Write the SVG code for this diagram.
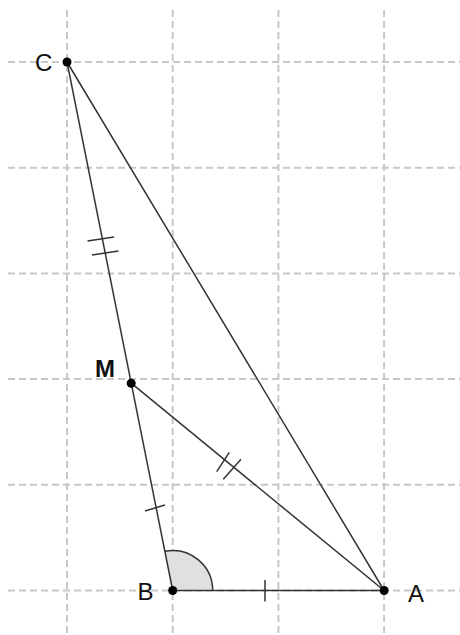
<svg xmlns="http://www.w3.org/2000/svg" width="460" height="635" viewBox="0 0 460 635">
<style>
.grid{stroke:#c8c8c8;stroke-width:2;stroke-dasharray:7,4;fill:none}
.seg{stroke:#333;stroke-width:1.5;fill:none}
.tick{stroke:#333;stroke-width:1.5}
.lbl{font-family:"Liberation Sans",Arial,sans-serif;font-size:24px;fill:#111}
.pt{fill:#000}
</style>
<rect width="460" height="635" fill="#fff"/>
<g id="grid">
<line class="grid" x1="67" y1="10" x2="67" y2="635"/>
<line class="grid" x1="172.7" y1="10" x2="172.7" y2="635"/>
<line class="grid" x1="278.4" y1="10" x2="278.4" y2="635"/>
<line class="grid" x1="384.1" y1="10" x2="384.1" y2="635"/>
<line class="grid" x1="8" y1="62" x2="460" y2="62"/>
<line class="grid" x1="8" y1="167.7" x2="460" y2="167.7"/>
<line class="grid" x1="8" y1="273.4" x2="460" y2="273.4"/>
<line class="grid" x1="8" y1="379.1" x2="460" y2="379.1"/>
<line class="grid" x1="8" y1="484.8" x2="460" y2="484.8"/>
<line class="grid" x1="8" y1="590.5" x2="460" y2="590.5"/>
</g>
<g id="angleB">
<path d="M172.7,590.5 L212.7,590.5 A40,40 0 0 0 164.9,551.3 Z" fill="#e0e0e0" stroke="none"/>
<path d="M212.7,590.5 A40,40 0 0 0 164.9,551.3" class="seg"/>
</g>
<g id="connectors">
<line class="seg" x1="67" y1="62" x2="172.7" y2="590.5"/>
<line class="seg" x1="67" y1="62" x2="384.1" y2="590.5"/>
<line class="seg" x1="172.7" y1="590.5" x2="384.1" y2="590.5"/>
<line class="seg" x1="131.2" y1="383.2" x2="384.1" y2="590.5"/>
<line class="tick" x1="87.5" y1="241" x2="114" y2="237"/>
<line class="tick" x1="92" y1="255" x2="118.5" y2="251"/>
<line class="tick" x1="145" y1="511" x2="165" y2="505"/>
<line class="tick" x1="265" y1="580" x2="265" y2="601.5"/>
<line class="tick" x1="216.7" y1="471.7" x2="229.3" y2="452.3"/>
<line class="tick" x1="223.3" y1="479.3" x2="241" y2="459.3"/>
</g>
<g id="C"><circle class="pt" cx="67" cy="62" r="4.5"/><text class="lbl" x="35" y="71">C</text></g>
<g id="M"><circle class="pt" cx="131.2" cy="383.2" r="4.5"/><text class="lbl" x="95" y="377" font-weight="bold">M</text></g>
<g id="B"><circle class="pt" cx="172.7" cy="590.5" r="4.5"/><text class="lbl" x="137.5" y="600">B</text></g>
<g id="A"><circle class="pt" cx="384.1" cy="590.5" r="4.5"/><text class="lbl" x="408" y="602">A</text></g>
</svg>
